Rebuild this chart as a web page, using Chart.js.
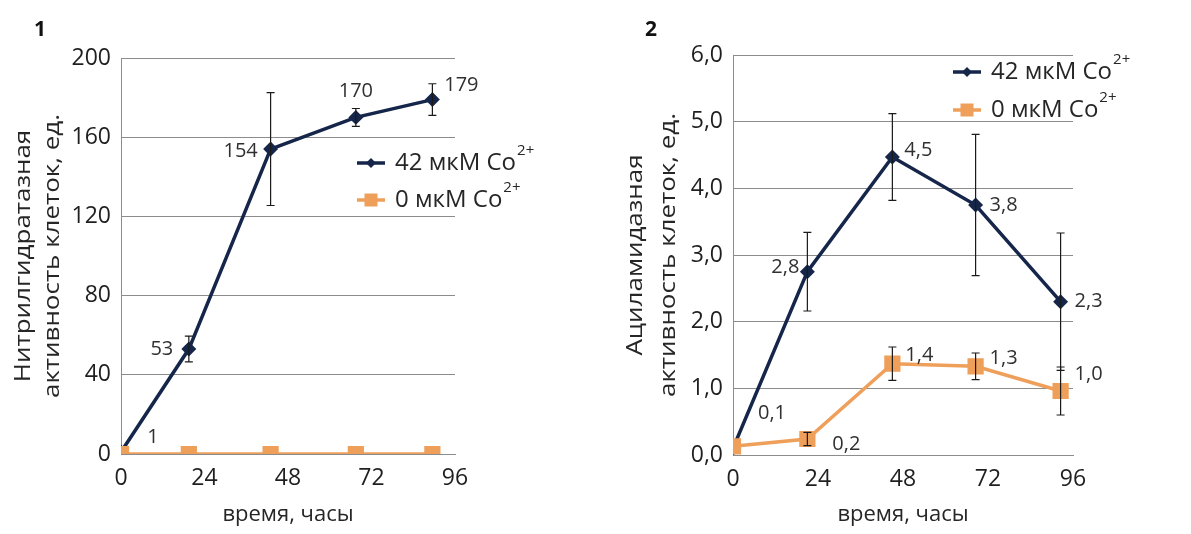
<!DOCTYPE html>
<html>
<head>
<meta charset="utf-8">
<script src="https://cdn.jsdelivr.net/npm/chart.js@4"></script>
<style>
html, body { margin: 0; padding: 0; background: #fff; }
#wrap { position: relative; width: 1191px; height: 534px; }
.box { position: absolute; top: 0; height: 534px; }
</style>
</head>
<body>
<div id="wrap">
  <div class="box" style="left:0;width:595px"><canvas id="grafico1" width="595" height="534"></canvas></div>
  <div class="box" style="left:595px;width:596px"><canvas id="grafico2" width="596" height="534"></canvas></div>
</div>
<script>
// время отбора проб, часы (точки стоят не ровно на делениях)
const horas1 = [0, 19.5, 43, 67.5, 89.5];
const horas2 = [0, 21, 45, 68.5, 92.5];
const xTicks = [0, 24, 48, 72, 96];

// 1 - нитрилгидратазная активность
const nitril42 = [1, 53, 154, 170, 179];
const nitril42Err = [0, 6.5, 28.5, 4.5, 8];
const nitril0 = [0, 0, 0, 0, 0];

// 2 - ациламидазная активность
const acil42 = [0.1, 2.75, 4.47, 3.75, 2.3];
const acil42Err = [0, 0.59, 0.65, 1.06, 1.03];
const acil0 = [0.13, 0.24, 1.37, 1.33, 0.96];
const acil0Err = [0, 0.1, 0.25, 0.2, 0.36];

const series = ['42 мкМ Co', '0 мкМ Co'];

const AZUL = '#15264a';
const LARANJA = '#ee9f5a';
const FONTE = "'Open Sans', 'Noto Sans', sans-serif";

const pontos = (xs, ys) => xs.map((x, i) => ({x: x, y: ys[i]}));

// erros, rótulos, legenda, títulos
const extras = {
    id: 'extras',
    afterDatasetsDraw(chart, args, opts) {
        const ctx = chart.ctx;
        const sx = chart.scales.x, sy = chart.scales.y;
        chart.data.datasets.forEach(ds => {
            if (ds.erros) {
                ctx.save();
                ctx.strokeStyle = '#1a1a1a';
                ctx.lineWidth = 1.2;
                ds.data.forEach((p, i) => {
                    const e = ds.erros[i];
                    if (!e) return;
                    const px = sx.getPixelForValue(p.x);
                    const t = sy.getPixelForValue(p.y + e);
                    const b = sy.getPixelForValue(p.y - e);
                    ctx.beginPath();
                    ctx.moveTo(px, t); ctx.lineTo(px, b);
                    ctx.moveTo(px - 4, t); ctx.lineTo(px + 4, t);
                    ctx.moveTo(px - 4, b); ctx.lineTo(px + 4, b);
                    ctx.stroke();
                });
                ctx.restore();
            }
            if (ds.rotulos) {
                ctx.save();
                ctx.fillStyle = '#303030';
                ctx.font = '20px ' + FONTE;
                ctx.textAlign = 'center';
                ctx.textBaseline = 'middle';
                ds.data.forEach((p, i) => {
                    const off = ds.rotulos[i];
                    if (!off) return;
                    const px = sx.getPixelForValue(p.x);
                    const py = sy.getPixelForValue(p.y);
                    ctx.fillText(opts.formato(p.y), px + off[0], py + off[1]);
                });
                ctx.restore();
            }
        });
    },
    afterDraw(chart, args, opts) {
        const ctx = chart.ctx;
        const area = chart.chartArea;
        ctx.save();
        // número do gráfico
        ctx.fillStyle = '#111';
        ctx.font = 'bold 21px ' + FONTE;
        ctx.textAlign = 'left';
        ctx.textBaseline = 'middle';
        ctx.fillText(opts.numero, opts.numeroX, 30);

        // título do eixo y (duas linhas, um pouco esticado)
        ctx.fillStyle = '#262626';
        ctx.font = '22px ' + FONTE;
        ctx.textAlign = 'center';
        const cy = (area.top + area.bottom) / 2;
        opts.tituloY.forEach((linha, i) => {
            ctx.save();
            ctx.translate(opts.tituloYX[i], cy);
            ctx.rotate(-Math.PI / 2);
            ctx.scale(opts.esticar, 1);
            ctx.fillText(linha, 0, 0);
            ctx.restore();
        });

        // legenda
        const lx = opts.legendaX;
        chart.data.datasets.slice().sort((a, b) => b.order - a.order).forEach((ds, i) => {
            const ly = opts.legendaY[i];
            ctx.strokeStyle = ds.borderColor;
            ctx.lineWidth = 3.5;
            ctx.beginPath();
            ctx.moveTo(lx, ly); ctx.lineTo(lx + 28, ly);
            ctx.stroke();
            ctx.fillStyle = ds.borderColor;
            ctx.beginPath();
            if (ds.pointStyle === 'rect') {
                ctx.rect(lx + 14 - 6.5, ly - 6.5, 13, 13);
            } else {
                ctx.moveTo(lx + 14, ly - 5); ctx.lineTo(lx + 19, ly);
                ctx.lineTo(lx + 14, ly + 5); ctx.lineTo(lx + 9, ly);
                ctx.closePath();
            }
            ctx.fill();
            ctx.fillStyle = '#262626';
            ctx.font = '24px ' + FONTE;
            ctx.textAlign = 'left';
            ctx.textBaseline = 'middle';
            ctx.fillText(ds.label, lx + 38, ly);
            const w = ctx.measureText(ds.label).width;
            ctx.font = '15px ' + FONTE;
            ctx.fillText('2+', lx + 39 + w, ly - 12);
        });
        ctx.restore();
    }
};

const grafico = (id, cfg) => {
    const ctx = document.getElementById(id);
    return new Chart(ctx, {
        type: 'scatter',
        data: {
            datasets: [
                {
                    label: series[1],
                    data: pontos(cfg.horas, cfg.zero),
                    erros: cfg.zeroErr,
                    rotulos: cfg.rotulosZero,
                    showLine: true,
                    borderColor: LARANJA,
                    backgroundColor: LARANJA,
                    borderWidth: 3.5,
                    pointStyle: 'rect',
                    pointRadius: 9,
                    pointHoverRadius: 9,
                    order: 0
                },
                {
                    label: series[0],
                    data: pontos(cfg.horas, cfg.cobalto),
                    erros: cfg.cobaltoErr,
                    rotulos: cfg.rotulosCobalto,
                    showLine: true,
                    borderColor: AZUL,
                    backgroundColor: AZUL,
                    borderWidth: 3.5,
                    pointStyle: 'rectRot',
                    pointRadius: 5,
                    pointHoverRadius: 5,
                    order: 1
                }
            ]
        },
        options: {
            responsive: false,
            animation: false,
            layout: {
                padding: {left: 0, right: cfg.direita, top: cfg.topo, bottom: 0}
            },
            plugins: {
                legend: {display: false},
                tooltip: {enabled: false},
                extras: {
                    formato: cfg.formato,
                    numero: cfg.numero,
                    numeroX: cfg.numeroX,
                    tituloY: cfg.tituloY,
                    tituloYX: cfg.tituloYX,
                    esticar: 1.18,
                    legendaX: cfg.legendaX,
                    legendaY: cfg.legendaY
                }
            },
            scales: {
                x: {
                    type: 'linear',
                    min: 0,
                    max: 96,
                    afterFit: s => { s.height = cfg.alturaX; },
                    afterBuildTicks: s => { s.ticks = xTicks.map(v => ({value: v})); },
                    grid: {display: false, drawTicks: false},
                    border: {display: true, color: '#8c8c8c', width: 1},
                    ticks: {
                        color: '#1f1f1f',
                        font: {family: FONTE, size: 23},
                        padding: 11,
                        maxRotation: 0
                    },
                    title: {
                        display: true,
                        text: 'время, часы',
                        color: '#262626',
                        font: {family: FONTE, size: 22},
                        padding: {top: 0, bottom: 6}
                    }
                },
                y: {
                    min: cfg.yMin,
                    max: cfg.yMax,
                    afterFit: s => { s.width = cfg.larguraY; },
                    grid: {color: '#8c8c8c', lineWidth: 1, drawTicks: false},
                    border: {display: true, color: '#8c8c8c', width: 1},
                    ticks: {
                        stepSize: cfg.passo,
                        color: '#1f1f1f',
                        font: {family: FONTE, size: 23},
                        padding: 10,
                        callback: cfg.formatoEixo
                    }
                }
            }
        },
        plugins: [extras]
    });
};

grafico('grafico1', {
    horas: horas1,
    cobalto: nitril42,
    cobaltoErr: nitril42Err,
    zero: nitril0,
    zeroErr: null,
    rotulosCobalto: [[32, -15], [-27, 0], [-30, 2], [0, -26], [29, -14]],
    rotulosZero: null,
    formato: v => Math.round(v).toString(),
    formatoEixo: v => v,
    yMin: 0, yMax: 200, passo: 40,
    direita: 140, topo: 58, larguraY: 121, alturaX: 80,
    numero: '1', numeroX: 34,
    tituloY: ['Нитрилгидратазная', 'активность клеток, ед.'],
    tituloYX: [24, 53],
    legendaX: 357, legendaY: [163, 200]
});

grafico('grafico2', {
    horas: horas2,
    cobalto: acil42,
    cobaltoErr: acil42Err,
    zero: acil0,
    zeroErr: acil0Err,
    rotulosCobalto: [[39, -35], [-22, -4], [26, -7], [28, 0], [28, 0]],
    rotulosZero: [null, [39, 5], [27, -8], [28, -8], [28, -17]],
    formato: v => v.toFixed(1).replace('.', ','),
    formatoEixo: v => v.toFixed(1).replace('.', ','),
    yMin: 0, yMax: 6, passo: 1,
    direita: 118, topo: 55, larguraY: 138, alturaX: 79,
    numero: '2', numeroX: 50,
    tituloY: ['Ациламидазная', 'активность клеток, ед.'],
    tituloYX: [41, 74],
    legendaX: 358, legendaY: [72, 110]
});
</script>
</body>
</html>
